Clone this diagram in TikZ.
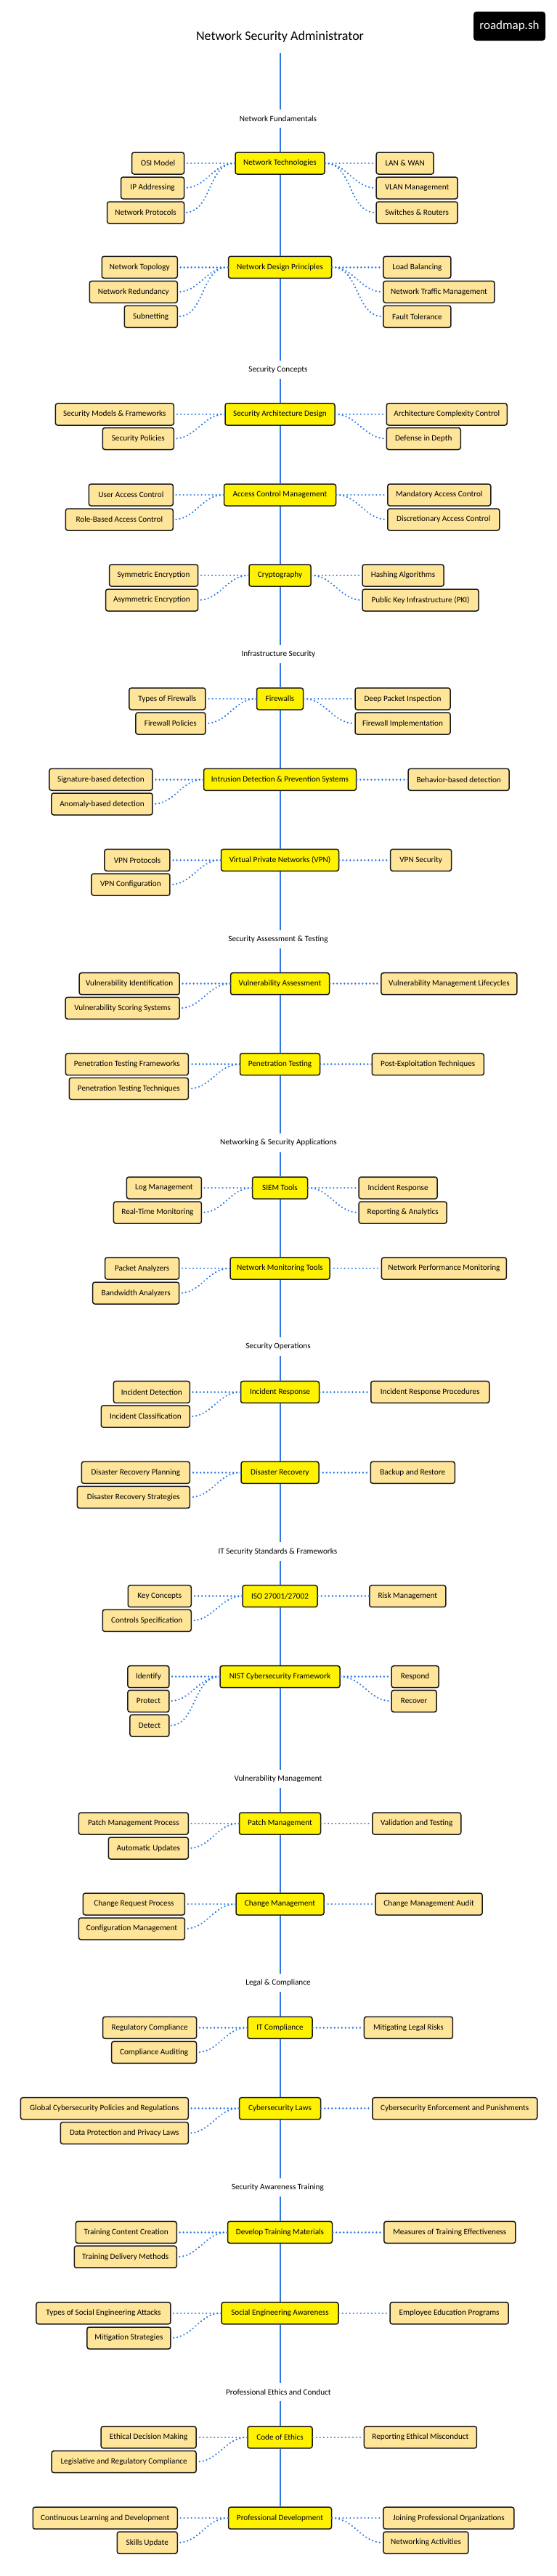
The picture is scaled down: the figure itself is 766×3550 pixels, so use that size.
\documentclass[tikz,border=0pt]{standalone}
\usepackage{fontspec}
\setmainfont{Carlito}
\definecolor{spineblue}{HTML}{2B78E4}
\definecolor{subfill}{HTML}{FFE599}
\tikzset{
  x=1pt,y=-1pt,
  basebox/.style={draw=black!90,line width=1.5pt,rounded corners=3pt,minimum height=30pt,inner sep=0pt,text=black,font=\fontsize{11.2}{14}\selectfont},
  mainbox/.style={basebox,fill=yellow},
  leftbox/.style={basebox,fill=subfill,anchor=east},
  rightbox/.style={basebox,fill=subfill,anchor=west},
  section/.style={inner sep=0pt,minimum height=25pt,font=\fontsize{11.2}{14}\selectfont},
  spine/.style={draw=spineblue,line width=2pt},
  link/.style={draw=spineblue,line width=2.5pt,line cap=round,dash pattern=on 0.01pt off 5pt}
}
\begin{document}
\begin{tikzpicture}
  \useasboundingbox (0,0) rectangle (766,3550);
  \node[inner sep=0pt,minimum height=43pt,font=\fontsize{18}{22}\selectfont] (title) at (385.5,51) {Network Security Administrator};
  \node[fill=black,text=white,rounded corners=4pt,minimum width=99pt,minimum height=40pt,inner sep=0pt,font=\fontsize{17}{21}\selectfont] (logo) at (701.5,36) {roadmap.sh};

  \node[section] (secFund) at (383,163.3) {Network Fundamentals};
  \node[mainbox,minimum width=123pt] (NT) at (385.5,225) {Network Technologies};
  \node[leftbox,minimum width=72pt] (OSI) at (254.3,225) {OSI Model};
  \node[leftbox,minimum width=87pt] (IP) at (254.3,259) {IP Addressing};
  \node[leftbox,minimum width=106pt] (NP) at (254.3,293) {Network Protocols};
  \node[rightbox,minimum width=79pt] (LAN) at (517.4,225) {LAN \& WAN};
  \node[rightbox,minimum width=112pt] (VLAN) at (517.4,259) {VLAN Management};
  \node[rightbox,minimum width=112pt] (SW) at (517.4,293) {Switches \& Routers};
  \node[mainbox,minimum width=142pt] (NDP) at (385.5,368.3) {Network Design Principles};
  \node[leftbox,minimum width=104pt] (NTop) at (245,368.3) {Network Topology};
  \node[leftbox,minimum width=121pt] (NRed) at (245,402.3) {Network Redundancy};
  \node[leftbox,minimum width=73pt] (SUB) at (245,436.3) {Subnetting};
  \node[rightbox,minimum width=93pt] (LB) at (527.2,368.3) {Load Balancing};
  \node[rightbox,minimum width=153pt] (NTM) at (527.2,402.3) {Network Traffic Management};
  \node[rightbox,minimum width=93pt] (FT) at (527.2,436.3) {Fault Tolerance};

  \node[section] (secConcepts) at (383,509.3) {Security Concepts};
  \node[mainbox,minimum width=151pt] (SAD) at (385.5,571) {Security Architecture Design};
  \node[leftbox,minimum width=163pt] (SMF) at (240.1,571) {Security Models \& Frameworks};
  \node[leftbox,minimum width=98pt] (SP) at (240.1,604.5) {Security Policies};
  \node[rightbox,minimum width=166pt] (ACC) at (531.5,571) {Architecture Complexity Control};
  \node[rightbox,minimum width=102pt] (DID) at (531.5,604.5) {Defense in Depth};
  \node[mainbox,minimum width=154pt] (ACM) at (385.5,682) {Access Control Management};
  \node[leftbox,minimum width=116pt] (UAC) at (239.1,682) {User Access Control};
  \node[leftbox,minimum width=148pt] (RBAC) at (239.1,716) {Role-Based Access Control};
  \node[rightbox,minimum width=142pt] (MAC) at (533,682) {Mandatory Access Control};
  \node[rightbox,minimum width=154pt] (DAC) at (533,716) {Discretionary Access Control};
  \node[mainbox,minimum width=85pt] (CRY) at (385.5,793) {Cryptography};
  \node[leftbox,minimum width=122pt] (SYM) at (273.3,793) {Symmetric Encryption};
  \node[leftbox,minimum width=127pt] (ASY) at (273.3,827) {Asymmetric Encryption};
  \node[rightbox,minimum width=112pt] (HASH) at (498.3,793) {Hashing Algorithms};
  \node[rightbox,minimum width=160pt] (PKI) at (498.3,827) {Public Key Infrastructure (PKI)};

  \node[section] (secInfra) at (383.4,901.3) {Infrastructure Security};
  \node[mainbox,minimum width=64pt] (FW) at (385.5,963) {Firewalls};
  \node[leftbox,minimum width=105pt] (TOF) at (283.6,963) {Types of Firewalls};
  \node[leftbox,minimum width=96pt] (FWP) at (283.6,997) {Firewall Policies};
  \node[rightbox,minimum width=131pt] (DPI) at (488.3,963) {Deep Packet Inspection};
  \node[rightbox,minimum width=131pt] (FWI) at (488.3,997) {Firewall Implementation};
  \node[mainbox,minimum width=210pt] (IDPS) at (385.5,1074.3) {Intrusion Detection \& Prevention Systems};
  \node[leftbox,minimum width=142pt] (SIG) at (210.7,1074.3) {Signature-based detection};
  \node[leftbox,minimum width=139pt] (ANO) at (210.7,1108) {Anomaly-based detection};
  \node[rightbox,minimum width=139pt] (BEH) at (561.4,1074.3) {Behavior-based detection};
  \node[mainbox,minimum width=162pt] (VPN) at (385.5,1185.3) {Virtual Private Networks (VPN)};
  \node[leftbox,minimum width=90pt] (VPNP) at (234.7,1185.3) {VPN Protocols};
  \node[leftbox,minimum width=108pt] (VPNC) at (234.7,1219) {VPN Configuration};
  \node[rightbox,minimum width=84pt] (VPNS) at (536.9,1185.3) {VPN Security};

  \node[section] (secAssess) at (383,1294.3) {Security Assessment \& Testing};
  \node[mainbox,minimum width=136pt] (VA) at (385.5,1355.7) {Vulnerability Assessment};
  \node[leftbox,minimum width=138pt] (VID) at (247.9,1355.7) {Vulnerability Identification};
  \node[leftbox,minimum width=157pt] (VSS) at (247.9,1389.3) {Vulnerability Scoring Systems};
  \node[rightbox,minimum width=187pt] (VML) at (524.2,1355.7) {Vulnerability Management Lifecycles};
  \node[mainbox,minimum width=110pt] (PT) at (385.5,1466.7) {Penetration Testing};
  \node[leftbox,minimum width=169pt] (PTF) at (260.1,1466.7) {Penetration Testing Frameworks};
  \node[leftbox,minimum width=164pt] (PTT) at (260.1,1500.3) {Penetration Testing Techniques};
  \node[rightbox,minimum width=154pt] (PET) at (511.5,1466.7) {Post-Exploitation Techniques};

  \node[section] (secApps) at (383.4,1575) {Networking \& Security Applications};
  \node[mainbox,minimum width=76pt] (SIEM) at (385.5,1637) {SIEM Tools};
  \node[leftbox,minimum width=103pt] (LOG) at (278.2,1637) {Log Management};
  \node[leftbox,minimum width=121pt] (RTM) at (278.2,1671) {Real-Time Monitoring};
  \node[rightbox,minimum width=108pt] (INC) at (493.4,1637) {Incident Response};
  \node[rightbox,minimum width=121pt] (REP) at (493.4,1671) {Reporting \& Analytics};
  \node[mainbox,minimum width=137pt] (NMT) at (385.5,1748) {Network Monitoring Tools};
  \node[leftbox,minimum width=102pt] (PKT) at (247.4,1748) {Packet Analyzers};
  \node[leftbox,minimum width=119pt] (BAN) at (247.4,1782) {Bandwidth Analyzers};
  \node[rightbox,minimum width=172pt] (NPM) at (524.7,1748) {Network Performance Monitoring};

  \node[section] (secOps) at (383,1856) {Security Operations};
  \node[mainbox,minimum width=108pt] (IR) at (385.5,1918.4) {Incident Response};
  \node[leftbox,minimum width=105pt] (IDE) at (262.1,1918.4) {Incident Detection};
  \node[leftbox,minimum width=122pt] (ICL) at (262.1,1952) {Incident Classification};
  \node[rightbox,minimum width=163pt] (IRP) at (510,1918.4) {Incident Response Procedures};
  \node[mainbox,minimum width=107pt] (DR) at (385.5,2029.3) {Disaster Recovery};
  \node[leftbox,minimum width=149pt] (DRP) at (262.1,2029.3) {Disaster Recovery Planning};
  \node[leftbox,minimum width=155pt] (DRS) at (262.1,2063.3) {Disaster Recovery Strategies};
  \node[rightbox,minimum width=116pt] (BAK) at (509.5,2029.3) {Backup and Restore};

  \node[section] (secStd) at (382.4,2138) {IT Security Standards \& Frameworks};
  \node[mainbox,minimum width=103pt] (ISO) at (385.5,2199.7) {ISO 27001/27002};
  \node[leftbox,minimum width=87pt] (KEY) at (264,2199.7) {Key Concepts};
  \node[leftbox,minimum width=122pt] (CTL) at (264,2233.3) {Controls Specification};
  \node[rightbox,minimum width=105pt] (RISK) at (508.1,2199.7) {Risk Management};
  \node[mainbox,minimum width=165pt] (NIST) at (385.5,2310.7) {NIST Cybersecurity Framework};
  \node[leftbox,minimum width=57pt] (IDY) at (233.7,2310.7) {Identify};
  \node[leftbox,minimum width=57pt] (PRO) at (233.7,2344.3) {Protect};
  \node[leftbox,minimum width=54pt] (DET) at (233.7,2378) {Detect};
  \node[rightbox,minimum width=65pt] (RES) at (538.4,2310.7) {Respond};
  \node[rightbox,minimum width=62pt] (REC) at (538.4,2344.3) {Recover};

  \node[section] (secVuln) at (383,2451.3) {Vulnerability Management};
  \node[mainbox,minimum width=112pt] (PM) at (385.5,2513) {Patch Management};
  \node[leftbox,minimum width=151pt] (PMP) at (260.1,2513) {Patch Management Process};
  \node[leftbox,minimum width=110pt] (AUTO) at (260.1,2547) {Automatic Updates};
  \node[rightbox,minimum width=122pt] (VAL) at (512,2513) {Validation and Testing};
  \node[mainbox,minimum width=121pt] (CM) at (385.5,2624) {Change Management};
  \node[leftbox,minimum width=140pt] (CRP) at (255.2,2624) {Change Request Process};
  \node[leftbox,minimum width=146pt] (CFG) at (255.2,2658) {Configuration Management};
  \node[rightbox,minimum width=147pt] (CMA) at (516.4,2624) {Change Management Audit};

  \node[section] (secLegal) at (383,2732.3) {Legal \& Compliance};
  \node[mainbox,minimum width=89pt] (ITC) at (385.5,2794.3) {IT Compliance};
  \node[leftbox,minimum width=129pt] (REG) at (271.4,2794.3) {Regulatory Compliance};
  \node[leftbox,minimum width=117pt] (AUD) at (271.4,2828.3) {Compliance Auditing};
  \node[rightbox,minimum width=122pt] (MLR) at (500.7,2794.3) {Mitigating Legal Risks};
  \node[mainbox,minimum width=112pt] (CSL) at (385.5,2905.7) {Cybersecurity Laws};
  \node[leftbox,minimum width=231pt] (GLOB) at (260.1,2905.7) {Global Cybersecurity Policies and Regulations};
  \node[leftbox,minimum width=176pt] (DPP) at (260.1,2939.6) {Data Protection and Privacy Laws};
  \node[rightbox,minimum width=227pt] (CEP) at (512,2905.7) {Cybersecurity Enforcement and Punishments};

  \node[section] (secTrain) at (382.4,3014.6) {Security Awareness Training};
  \node[mainbox,minimum width=144pt] (DTM) at (385.5,3076.3) {Develop Training Materials};
  \node[leftbox,minimum width=139pt] (TCC) at (244,3076.3) {Training Content Creation};
  \node[leftbox,minimum width=141pt] (TDM) at (244,3110.2) {Training Delivery Methods};
  \node[rightbox,minimum width=181pt] (MTE) at (528.1,3076.3) {Measures of Training Effectiveness};
  \node[mainbox,minimum width=161pt] (SEA) at (385.5,3187.8) {Social Engineering Awareness};
  \node[leftbox,minimum width=185pt] (TSE) at (235.7,3187.8) {Types of Social Engineering Attacks};
  \node[leftbox,minimum width=115pt] (MIT) at (235.7,3222) {Mitigation Strategies};
  \node[rightbox,minimum width=163pt] (EEP) at (536.4,3187.8) {Employee Education Programs};

  \node[section] (secEthics) at (383.4,3296.6) {Professional Ethics and Conduct};
  \node[mainbox,minimum width=89pt] (COE) at (385.5,3358.8) {Code of Ethics};
  \node[leftbox,minimum width=131pt] (EDM) at (270.9,3358.8) {Ethical Decision Making};
  \node[leftbox,minimum width=199pt] (LRC) at (270.9,3392.6) {Legislative and Regulatory Compliance};
  \node[rightbox,minimum width=155pt] (REM) at (500.7,3358.8) {Reporting Ethical Misconduct};
  \node[mainbox,minimum width=142pt] (PD) at (385.5,3470.2) {Professional Development};
  \node[leftbox,minimum width=199pt] (CLD) at (245,3470.2) {Continuous Learning and Development};
  \node[leftbox,minimum width=83pt] (SKI) at (245,3504) {Skills Update};
  \node[rightbox,minimum width=180pt] (JPO) at (527.2,3470.2) {Joining Professional Organizations};
  \node[rightbox,minimum width=117pt] (NET) at (527.2,3504) {Networking Activities};

  \draw[spine] (title.south) -- (title.south |- secFund.north);
  \draw[spine] (secFund.south -| NT) -- (NT);
  \draw[spine] (NT) -- (NDP);
  \draw[spine] (NDP) -- (NDP |- secConcepts.north);
  \draw[spine] (secConcepts.south -| SAD) -- (SAD);
  \draw[spine] (SAD) -- (ACM);
  \draw[spine] (ACM) -- (CRY);
  \draw[spine] (CRY) -- (CRY |- secInfra.north);
  \draw[spine] (secInfra.south -| FW) -- (FW);
  \draw[spine] (FW) -- (IDPS);
  \draw[spine] (IDPS) -- (VPN);
  \draw[spine] (VPN) -- (VPN |- secAssess.north);
  \draw[spine] (secAssess.south -| VA) -- (VA);
  \draw[spine] (VA) -- (PT);
  \draw[spine] (PT) -- (PT |- secApps.north);
  \draw[spine] (secApps.south -| SIEM) -- (SIEM);
  \draw[spine] (SIEM) -- (NMT);
  \draw[spine] (NMT) -- (NMT |- secOps.north);
  \draw[spine] (secOps.south -| IR) -- (IR);
  \draw[spine] (IR) -- (DR);
  \draw[spine] (DR) -- (DR |- secStd.north);
  \draw[spine] (secStd.south -| ISO) -- (ISO);
  \draw[spine] (ISO) -- (NIST);
  \draw[spine] (NIST) -- (NIST |- secVuln.north);
  \draw[spine] (secVuln.south -| PM) -- (PM);
  \draw[spine] (PM) -- (CM);
  \draw[spine] (CM) -- (CM |- secLegal.north);
  \draw[spine] (secLegal.south -| ITC) -- (ITC);
  \draw[spine] (ITC) -- (CSL);
  \draw[spine] (CSL) -- (CSL |- secTrain.north);
  \draw[spine] (secTrain.south -| DTM) -- (DTM);
  \draw[spine] (DTM) -- (SEA);
  \draw[spine] (SEA) -- (SEA |- secEthics.north);
  \draw[spine] (secEthics.south -| COE) -- (COE);
  \draw[spine] (COE) -- (PD);

  \draw[link] (NT.west) -- (OSI.east);
  \draw[link] (NT.west) to[out=180,in=0] (IP.east);
  \draw[link] (NT.west) to[out=180,in=0] (NP.east);
  \draw[link] (NT.east) -- (LAN.west);
  \draw[link] (NT.east) to[out=0,in=180] (VLAN.west);
  \draw[link] (NT.east) to[out=0,in=180] (SW.west);
  \draw[link] (NDP.west) -- (NTop.east);
  \draw[link] (NDP.west) to[out=180,in=0] (NRed.east);
  \draw[link] (NDP.west) to[out=180,in=0] (SUB.east);
  \draw[link] (NDP.east) -- (LB.west);
  \draw[link] (NDP.east) to[out=0,in=180] (NTM.west);
  \draw[link] (NDP.east) to[out=0,in=180] (FT.west);
  \draw[link] (SAD.west) -- (SMF.east);
  \draw[link] (SAD.west) to[out=180,in=0] (SP.east);
  \draw[link] (SAD.east) -- (ACC.west);
  \draw[link] (SAD.east) to[out=0,in=180] (DID.west);
  \draw[link] (ACM.west) -- (UAC.east);
  \draw[link] (ACM.west) to[out=180,in=0] (RBAC.east);
  \draw[link] (ACM.east) -- (MAC.west);
  \draw[link] (ACM.east) to[out=0,in=180] (DAC.west);
  \draw[link] (CRY.west) -- (SYM.east);
  \draw[link] (CRY.west) to[out=180,in=0] (ASY.east);
  \draw[link] (CRY.east) -- (HASH.west);
  \draw[link] (CRY.east) to[out=0,in=180] (PKI.west);
  \draw[link] (FW.west) -- (TOF.east);
  \draw[link] (FW.west) to[out=180,in=0] (FWP.east);
  \draw[link] (FW.east) -- (DPI.west);
  \draw[link] (FW.east) to[out=0,in=180] (FWI.west);
  \draw[link] (IDPS.west) -- (SIG.east);
  \draw[link] (IDPS.west) to[out=180,in=0] (ANO.east);
  \draw[link] (IDPS.east) -- (BEH.west);
  \draw[link] (VPN.west) -- (VPNP.east);
  \draw[link] (VPN.west) to[out=180,in=0] (VPNC.east);
  \draw[link] (VPN.east) -- (VPNS.west);
  \draw[link] (VA.west) -- (VID.east);
  \draw[link] (VA.west) to[out=180,in=0] (VSS.east);
  \draw[link] (VA.east) -- (VML.west);
  \draw[link] (PT.west) -- (PTF.east);
  \draw[link] (PT.west) to[out=180,in=0] (PTT.east);
  \draw[link] (PT.east) -- (PET.west);
  \draw[link] (SIEM.west) -- (LOG.east);
  \draw[link] (SIEM.west) to[out=180,in=0] (RTM.east);
  \draw[link] (SIEM.east) -- (INC.west);
  \draw[link] (SIEM.east) to[out=0,in=180] (REP.west);
  \draw[link] (NMT.west) -- (PKT.east);
  \draw[link] (NMT.west) to[out=180,in=0] (BAN.east);
  \draw[link] (NMT.east) -- (NPM.west);
  \draw[link] (IR.west) -- (IDE.east);
  \draw[link] (IR.west) to[out=180,in=0] (ICL.east);
  \draw[link] (IR.east) -- (IRP.west);
  \draw[link] (DR.west) -- (DRP.east);
  \draw[link] (DR.west) to[out=180,in=0] (DRS.east);
  \draw[link] (DR.east) -- (BAK.west);
  \draw[link] (ISO.west) -- (KEY.east);
  \draw[link] (ISO.west) to[out=180,in=0] (CTL.east);
  \draw[link] (ISO.east) -- (RISK.west);
  \draw[link] (NIST.west) -- (IDY.east);
  \draw[link] (NIST.west) to[out=180,in=0] (PRO.east);
  \draw[link] (NIST.west) to[out=180,in=0] (DET.east);
  \draw[link] (NIST.east) -- (RES.west);
  \draw[link] (NIST.east) to[out=0,in=180] (REC.west);
  \draw[link] (PM.west) -- (PMP.east);
  \draw[link] (PM.west) to[out=180,in=0] (AUTO.east);
  \draw[link] (PM.east) -- (VAL.west);
  \draw[link] (CM.west) -- (CRP.east);
  \draw[link] (CM.west) to[out=180,in=0] (CFG.east);
  \draw[link] (CM.east) -- (CMA.west);
  \draw[link] (ITC.west) -- (REG.east);
  \draw[link] (ITC.west) to[out=180,in=0] (AUD.east);
  \draw[link] (ITC.east) -- (MLR.west);
  \draw[link] (CSL.west) -- (GLOB.east);
  \draw[link] (CSL.west) to[out=180,in=0] (DPP.east);
  \draw[link] (CSL.east) -- (CEP.west);
  \draw[link] (DTM.west) -- (TCC.east);
  \draw[link] (DTM.west) to[out=180,in=0] (TDM.east);
  \draw[link] (DTM.east) -- (MTE.west);
  \draw[link] (SEA.west) -- (TSE.east);
  \draw[link] (SEA.west) to[out=180,in=0] (MIT.east);
  \draw[link] (SEA.east) -- (EEP.west);
  \draw[link] (COE.west) -- (EDM.east);
  \draw[link] (COE.west) to[out=180,in=0] (LRC.east);
  \draw[link] (COE.east) -- (REM.west);
  \draw[link] (PD.west) -- (CLD.east);
  \draw[link] (PD.west) to[out=180,in=0] (SKI.east);
  \draw[link] (PD.east) -- (JPO.west);
  \draw[link] (PD.east) to[out=0,in=180] (NET.west);
\end{tikzpicture}
\end{document}
